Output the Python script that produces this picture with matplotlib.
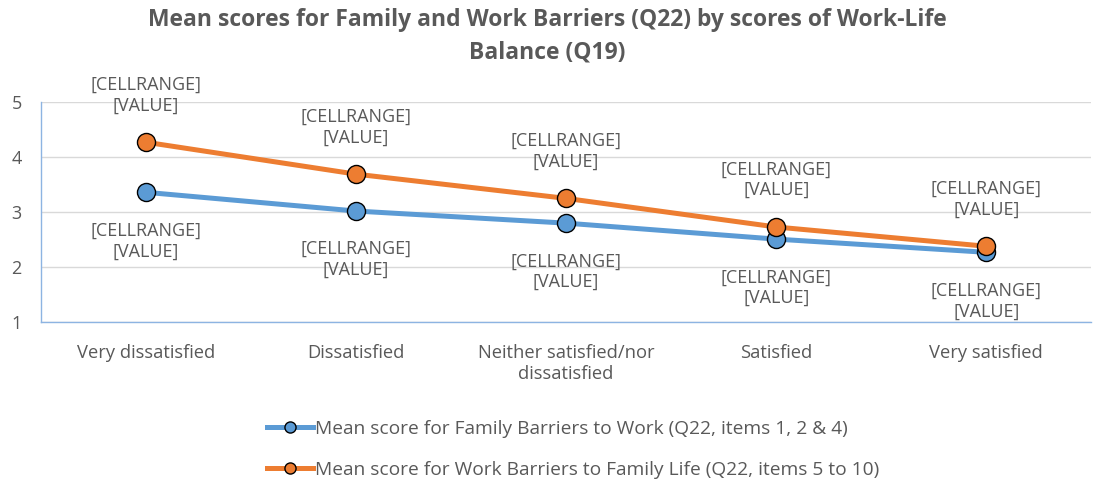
import matplotlib
matplotlib.use("Agg")
import matplotlib.pyplot as plt
from matplotlib.lines import Line2D

plt.rcParams["font.family"] = ["Open Sans", "DejaVu Sans"]

categories = ["Very dissatisfied", "Dissatisfied", "Neither satisfied/nor\ndissatisfied",
              "Satisfied", "Very satisfied"]
family_barriers = [3.36, 3.02, 2.80, 2.51, 2.27]
work_barriers = [4.27, 3.69, 3.25, 2.73, 2.38]
series_names = ["Mean score for Family Barriers to Work (Q22, items 1, 2 & 4)",
                "Mean score for Work Barriers to Family Life (Q22, items 5 to 10)"]
label_text = "[CELLRANGE]\n[VALUE]"

BLUE = "#5B9BD5"
ORANGE = "#ED7D31"
GREY = "#595959"

fig = plt.figure(figsize=(10.94, 4.86), dpi=100)
ax = fig.add_axes([0.0375, 0.337, 0.96, 0.453])

x = list(range(len(categories)))
ax.plot(x, family_barriers, color=BLUE, lw=3.6, marker="o", ms=13,
        mfc=BLUE, mec="black", mew=1.0, zorder=3)
ax.plot(x, work_barriers, color=ORANGE, lw=3.6, marker="o", ms=13,
        mfc=ORANGE, mec="black", mew=1.0, zorder=4)

for xi, v in zip(x, work_barriers):
    ax.annotate(label_text, (xi, v), xytext=(0, 34), textcoords="offset points",
                ha="center", va="center", fontsize=13, color=GREY, linespacing=1.2)
for xi, v in zip(x, family_barriers):
    ax.annotate(label_text, (xi, v), xytext=(0, -35), textcoords="offset points",
                ha="center", va="center", fontsize=13, color=GREY, linespacing=1.2)

ax.set_xlim(-0.5, len(categories) - 0.5)
ax.set_ylim(1, 5)
ax.set_yticks([1, 2, 3, 4, 5])
ax.set_xticks(x)
ax.set_xticklabels(categories, fontsize=13.2, color=GREY, linespacing=1.15)
ax.tick_params(axis="both", length=0, labelcolor=GREY)
ax.tick_params(axis="y", labelsize=13, pad=14)
ax.tick_params(axis="x", pad=16)
ax.grid(axis="y", color="#D9D9D9", lw=1)
ax.set_axisbelow(True)
for s in ["top", "right"]:
    ax.spines[s].set_visible(False)
for s in ["left", "bottom"]:
    ax.spines[s].set_color("#8DB4E2")
    ax.spines[s].set_linewidth(1)

fig.text(0.5, 0.926, "Mean scores for Family and Work Barriers (Q22) by scores of Work-Life\nBalance (Q19)",
         ha="center", va="center", fontsize=16.5, fontweight="bold", color=GREY, linespacing=1.45)

handles = [Line2D([], [], color=BLUE, lw=3.6, marker="o", ms=8, mfc=BLUE, mec="black", mew=1),
           Line2D([], [], color=ORANGE, lw=3.6, marker="o", ms=8, mfc=ORANGE, mec="black", mew=1)]
fig.legend(handles, series_names, loc="center left", bbox_to_anchor=(0.228, 0.076),
           frameon=False, fontsize=13.8, labelcolor=GREY, handlelength=2.4,
           handletextpad=0.1, labelspacing=1.2)

fig.savefig("out.png", dpi=100)
